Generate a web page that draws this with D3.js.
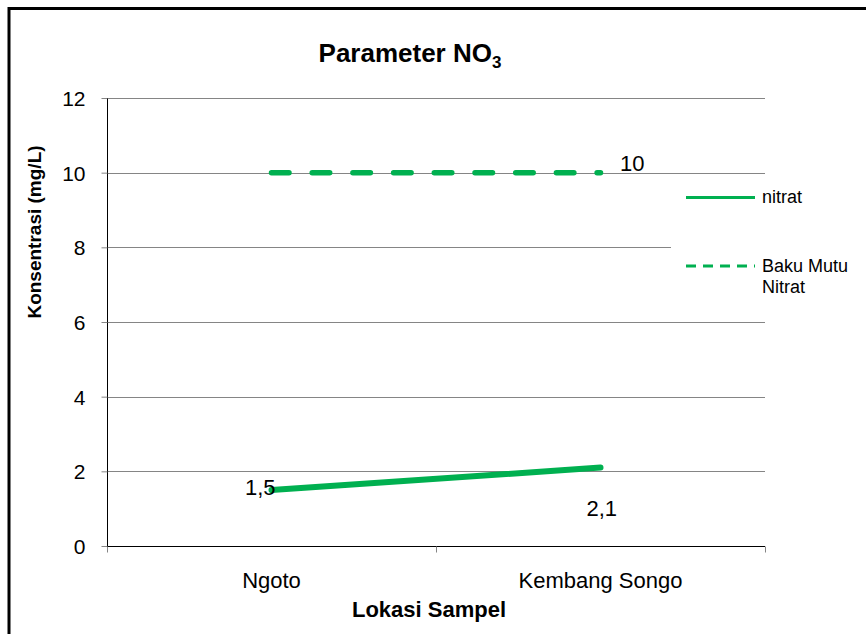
<!DOCTYPE html>
<html>
<head>
<meta charset="utf-8">
<script src="https://cdn.jsdelivr.net/npm/d3@7"></script>
<style>
  html, body { margin: 0; padding: 0; background: #fff; }
  svg { display: block; font-family: "Liberation Sans", Arial, sans-serif; }
</style>
</head>
<body>
<svg id="chart" width="866" height="634"></svg>
<script>
// Nitrate concentration per sampling location, with the quality standard
const locations = ["Ngoto", "Kembang Songo"];
const nitrat = [1.5, 2.1];
const nitratLabels = ["1,5", "2,1"];
const bakuMutu = [10, 10];
const bakuMutuLabel = "10";
const yTicks = [0, 2, 4, 6, 8, 10, 12];

const green = "#00B050";
const fontFam = "Liberation Sans, Arial, sans-serif";
const svg = d3.select("#chart");

const plot = { left: 107, right: 765, top: 98, bottom: 546 };

const x = d3.scaleBand().domain(locations).range([plot.left, plot.right]);
const xc = d => x(d) + x.bandwidth() / 2;
const y = d3.scaleLinear().domain([0, 12]).range([plot.bottom, plot.top]);

// outer frame (top and left edges visible)
svg.append("line").attr("x1", 9).attr("x2", 866).attr("y1", 8.5).attr("y2", 8.5)
  .attr("stroke", "#000").attr("stroke-width", 3);
svg.append("line").attr("x1", 9).attr("x2", 9).attr("y1", 7).attr("y2", 634)
  .attr("stroke", "#000").attr("stroke-width", 3);

// horizontal gridlines
svg.append("g").selectAll("line").data(yTicks.filter(t => t > 0)).join("line")
  .attr("x1", plot.left).attr("x2", plot.right)
  .attr("y1", d => Math.round(y(d)) + 0.5).attr("y2", d => Math.round(y(d)) + 0.5)
  .attr("stroke", "#858585").attr("stroke-width", 1);

// y axis
const yAxis = svg.append("g").attr("transform", `translate(${plot.left + 0.5},0)`)
  .call(d3.axisLeft(y).tickValues(yTicks).tickSize(6).tickPadding(16).tickFormat(d3.format("d")));
yAxis.select(".domain").attr("stroke", "#000").attr("d", `M0,${plot.top}V${plot.bottom}`);
yAxis.selectAll(".tick line").attr("stroke", "#858585");
yAxis.selectAll(".tick text").attr("font-size", 21).attr("fill", "#000")
  .attr("font-family", fontFam).attr("dy", "0.36em");

// x axis
const xAxis = svg.append("g").attr("transform", `translate(0,${plot.bottom + 0.5})`)
  .call(d3.axisBottom(x).tickSize(0).tickPadding(0));
xAxis.select(".domain").attr("stroke", "#000").attr("d", `M${plot.left},0H${plot.right}`);
xAxis.selectAll(".tick text").attr("font-size", 22).attr("fill", "#000")
  .attr("font-family", fontFam).attr("dy", null).attr("y", 41.5);
// category boundary ticks
const bounds = [plot.left, x(locations[1]), plot.right];
xAxis.append("g").selectAll("line").data(bounds).join("line")
  .attr("x1", d => Math.round(d) + 0.5).attr("x2", d => Math.round(d) + 0.5)
  .attr("y1", 0).attr("y2", 6).attr("stroke", "#858585");

// legend background box
svg.append("rect").attr("x", 671).attr("y", 178).attr("width", 195).attr("height", 132)
  .attr("fill", "#fff");

// Baku Mutu line (dashed)
const line = d3.line().x((d, i) => xc(locations[i])).y(d => y(d));
svg.append("path").datum(bakuMutu).attr("d", line)
  .attr("fill", "none").attr("stroke", green).attr("stroke-width", 5.5)
  .attr("stroke-linecap", "round").attr("stroke-dasharray", "17.5 23.2");

// nitrat line
svg.append("path").datum(nitrat).attr("d", line)
  .attr("fill", "none").attr("stroke", green).attr("stroke-width", 6)
  .attr("stroke-linecap", "round");

// data labels
svg.append("text").attr("x", xc(locations[0]) - 26.5).attr("y", y(nitrat[0]) + 5)
  .attr("font-size", 22).text(nitratLabels[0]);
svg.append("text").attr("x", xc(locations[1]) - 14).attr("y", y(nitrat[1]) + 48)
  .attr("font-size", 22).text(nitratLabels[1]);
svg.append("text").attr("x", xc(locations[1]) + 19.5).attr("y", y(bakuMutu[1]) - 1.5)
  .attr("font-size", 22).text(bakuMutuLabel);

// legend
const lg = svg.append("g");
lg.append("line").attr("x1", 686).attr("x2", 755).attr("y1", 197.5).attr("y2", 197.5)
  .attr("stroke", green).attr("stroke-width", 3);
lg.append("text").attr("x", 762).attr("y", 203).attr("font-size", 18).text("nitrat");
lg.append("line").attr("x1", 686).attr("x2", 755).attr("y1", 266).attr("y2", 266)
  .attr("stroke", green).attr("stroke-width", 3).attr("stroke-dasharray", "10 7");
lg.append("text").attr("x", 762).attr("y", 272).attr("font-size", 18).text("Baku Mutu");
lg.append("text").attr("x", 762).attr("y", 293).attr("font-size", 18).text("Nitrat");

// title
const title = svg.append("text").attr("x", 410).attr("y", 62).attr("text-anchor", "middle")
  .attr("font-size", 26).attr("font-weight", "bold");
title.append("tspan").text("Parameter NO");
title.append("tspan").attr("font-size", 17).attr("dy", 6).text("3");

// axis titles
svg.append("text").attr("x", 429).attr("y", 617).attr("text-anchor", "middle")
  .attr("font-size", 22).attr("font-weight", "bold").text("Lokasi Sampel");
svg.append("text").attr("transform", "translate(41,232) rotate(-90)").attr("text-anchor", "middle")
  .attr("font-size", 19).attr("font-weight", "bold").text("Konsentrasi (mg/L)");
</script>
</body>
</html>
